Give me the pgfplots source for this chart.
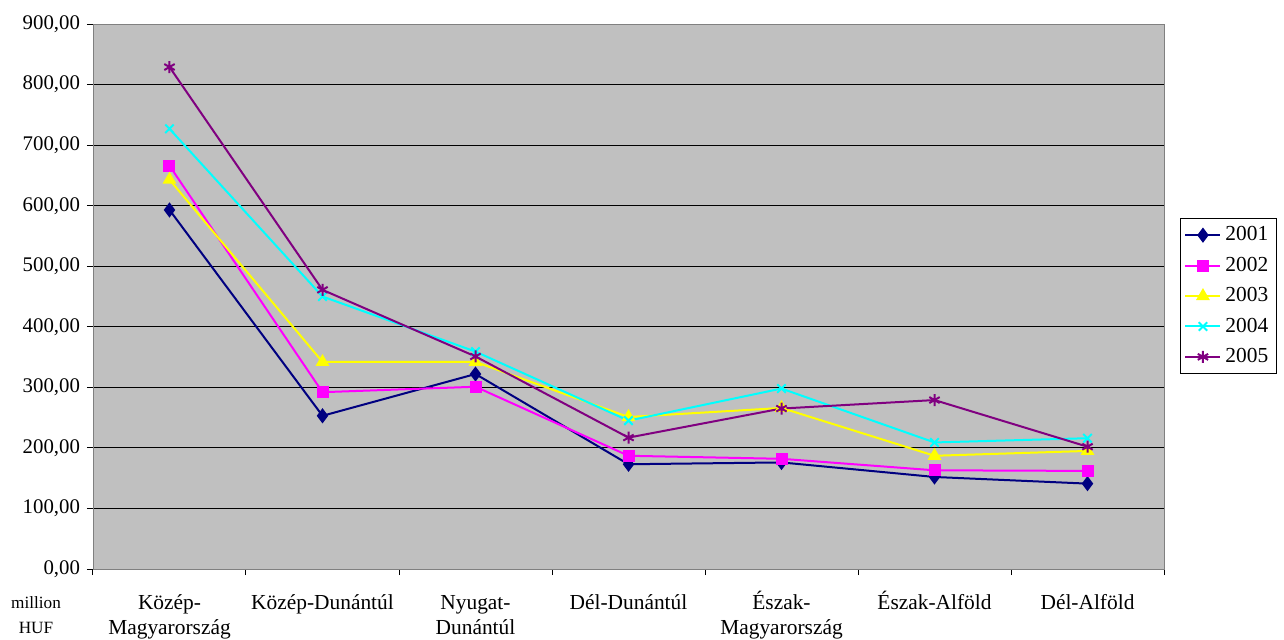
\documentclass[border=0pt]{standalone}
\usepackage{fontspec}
\setmainfont{Liberation Serif}
\usepackage{pgfplots}
\pgfplotsset{compat=1.18}
\usepackage{pgfplotstable}
\usetikzlibrary{plotmarks}

\definecolor{bggray}{RGB}{192,192,192}
\definecolor{c01}{RGB}{0,0,128}
\definecolor{c02}{RGB}{255,0,255}
\definecolor{c03}{RGB}{255,255,0}
\definecolor{c04}{RGB}{0,255,255}
\definecolor{c05}{RGB}{128,0,128}
\newcommand\st{\rule{0pt}{12pt}}

% regions x: 0 Kozep-Magyarorszag ... 6 Del-Alfold
\pgfplotstableread{
x   y01  y02  y03  y04  y05
0   593  666  643  727  829
1   253  292  342  450  461
2   322  301  342  359  351
3   173  187  251  245  217
4   176  182  266  298  265
5   152  163  187  209  279
6   141  162  195  216  202
}\regions

\begin{document}
\begin{tikzpicture}
\begin{axis}[
  ,scale only axis
  ,width=535.5pt
  ,height=272.5pt
  ,xmin=-0.5, xmax=6.5
  ,ymin=0, ymax=900
  ,axis background/.style={fill=bggray}
  ,axis line style={draw=gray}
  ,ytick={0,100,...,900}
  ,ymajorgrids
  ,major grid style={black, line width=0.5pt}
  ,xtick={0,...,6}
  ,major x tick style={draw=none}
  ,minor xtick={-0.5,0.5,...,6.5}
  ,minor x tick style={black, line width=0.5pt}
  ,minor tick length=3pt
  ,major tick length=3pt
  ,tick align=outside
  ,xtick pos=bottom
  ,ytick pos=left
  ,y tick style={black, line width=0.5pt}
  ,xticklabels={{\st Közép-\\Magyarország},{\st Közép-Dunántúl},{\st Nyugat-\\Dunántúl},{\st Dél-Dunántúl},{\st Észak-\\Magyarország},{\st Észak-Alföld},{\st Dél-Alföld}}
  ,x tick label style={align=center, anchor=north, font=\fontsize{10.7}{12.5}\selectfont, yshift=-1.8pt}
  ,y tick label style={font=\fontsize{10.4}{12}\selectfont}
  ,/pgf/number format/assume math mode=true
  ,yticklabel style={/pgf/number format/.cd, fixed, fixed zerofill, precision=2, use comma, 1000 sep={}}
  ,every axis plot/.append style={line width=1pt}
  ,legend image code/.code={\draw[mark repeat=2, mark phase=2] plot coordinates {(0pt,0pt) (8.75pt,0pt) (17.5pt,0pt)};}
  ,legend style={at={(axis description cs:1.0149,0.644)}, anchor=north west,
     draw=black, line width=0.5pt, font=\fontsize{10.7}{12}\selectfont,
     row sep=2.6pt, inner sep=2pt}
  ,clip=false
]
\addplot[c01, mark=diamond*, mark size=3pt] table[x=x, y=y01] {\regions};
\addplot[c02, mark=square*, mark size=2.5pt] table[x=x, y=y02] {\regions};
\addplot[c03, mark=triangle*, mark size=3pt] table[x=x, y=y03] {\regions};
\addplot[c04, mark=x, mark size=3pt] table[x=x, y=y04] {\regions};
\addplot[c05, mark=asterisk, mark size=3pt] table[x=x, y=y05] {\regions};
\legend{2001,2002,2003,2004,2005}
\node[align=center, font=\fontsize{8.6}{12.5}\selectfont] at ([xshift=-28.5pt, yshift=-23pt]rel axis cs:0,0) {million\\HUF};
\end{axis}
\pgfresetboundingbox
\useasboundingbox ([xshift=-46.5pt, yshift=-35pt]current axis.south west) rectangle ([xshift=595.5pt, yshift=284.5pt]current axis.south west);
\end{tikzpicture}
\end{document}
